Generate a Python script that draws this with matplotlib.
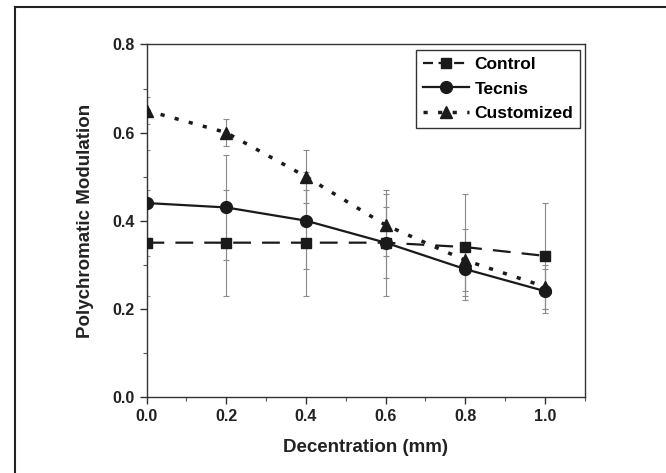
import matplotlib.pyplot as plt
from matplotlib.lines import Line2D
from matplotlib.ticker import MultipleLocator

plt.rcParams['font.family'] = ['Liberation Sans', 'DejaVu Sans']
plt.rcParams['font.weight'] = 'bold'

# decentration steps (mm)
decentration = [0.0, 0.2, 0.4, 0.6, 0.8, 1.0]

control = [0.35, 0.35, 0.35, 0.35, 0.34, 0.32]
control_err = [0.12, 0.12, 0.12, 0.12, 0.12, 0.12]

tecnis = [0.44, 0.43, 0.40, 0.35, 0.29, 0.24]
tecnis_err = [0.12, 0.12, 0.11, 0.08, 0.06, 0.05]

customized = [0.65, 0.60, 0.50, 0.39, 0.31, 0.25]
customized_err = [0.03, 0.03, 0.06, 0.07, 0.07, 0.05]

fig = plt.figure(figsize=(6.66, 4.73), dpi=100)
ax = fig.add_axes([0.220, 0.161, 0.658, 0.745])

# error bars first so the curves sit on top
for vals, errs in ((control, control_err), (tecnis, tecnis_err), (customized, customized_err)):
    ax.errorbar(decentration, vals, yerr=errs, fmt='none', ecolor='#8a8a8a',
                elinewidth=0.8, capsize=2.5, capthick=0.8, zorder=1)

ax.plot(decentration, control, color='#1a1a1a', lw=1.6, ls=(0, (8, 5)),
        marker='s', ms=7, label='Control', zorder=3)
ax.plot(decentration, tecnis, color='#1a1a1a', lw=1.6, ls='-',
        marker='o', ms=8.5, label='Tecnis', zorder=3)
ax.plot(decentration, customized, color='#1a1a1a', lw=2.5, ls=(0, (1.2, 3)),
        marker='^', ms=8.5, label='Customized', zorder=3)

ax.set_xlim(0, 1.1)
ax.set_ylim(0, 0.8)
ax.set_xticks(decentration)
ax.set_yticks([0.0, 0.2, 0.4, 0.6, 0.8])
ax.xaxis.set_minor_locator(MultipleLocator(0.1))
ax.yaxis.set_minor_locator(MultipleLocator(0.1))
ax.tick_params(which='major', direction='out', length=5, width=1, color='#333333',
               labelsize=11.5, labelcolor='#222222')
ax.tick_params(which='minor', direction='out', length=3, width=0.8, color='#555555')
for lbl in ax.get_xticklabels() + ax.get_yticklabels():
    lbl.set_fontweight('bold')
for s in ax.spines.values():
    s.set_color('#333333')
    s.set_linewidth(1.0)

ax.set_xlabel('Decentration (mm)', fontsize=13.5, fontweight='bold', color='#222222', labelpad=11)
ax.set_ylabel('Polychromatic Modulation', fontsize=13.5, fontweight='bold', color='#222222', labelpad=13)

leg = ax.legend(loc='upper right', bbox_to_anchor=(0.99, 0.985), borderaxespad=0,
                fancybox=False, framealpha=1, edgecolor='#333333',
                prop={'weight': 'bold', 'size': 12.5}, handlelength=2.7,
                handletextpad=0.3, borderpad=0.4, labelspacing=0.55)
leg.get_frame().set_linewidth(1.0)
# shorter dashes so the legend key for Control still reads as dashed
leg.get_lines()[0].set_linestyle((0, (4.5, 2.5)))

# frame around the panel (runs off the right and bottom edges)
x0 = 15 / 666
y1 = 1 - 7 / 473
fig.add_artist(Line2D([x0, 1.0], [y1, y1], transform=fig.transFigure, color='#222222', lw=1.5))
fig.add_artist(Line2D([x0, x0], [0.0, y1], transform=fig.transFigure, color='#222222', lw=1.5))

fig.savefig('out.png', dpi=100)
